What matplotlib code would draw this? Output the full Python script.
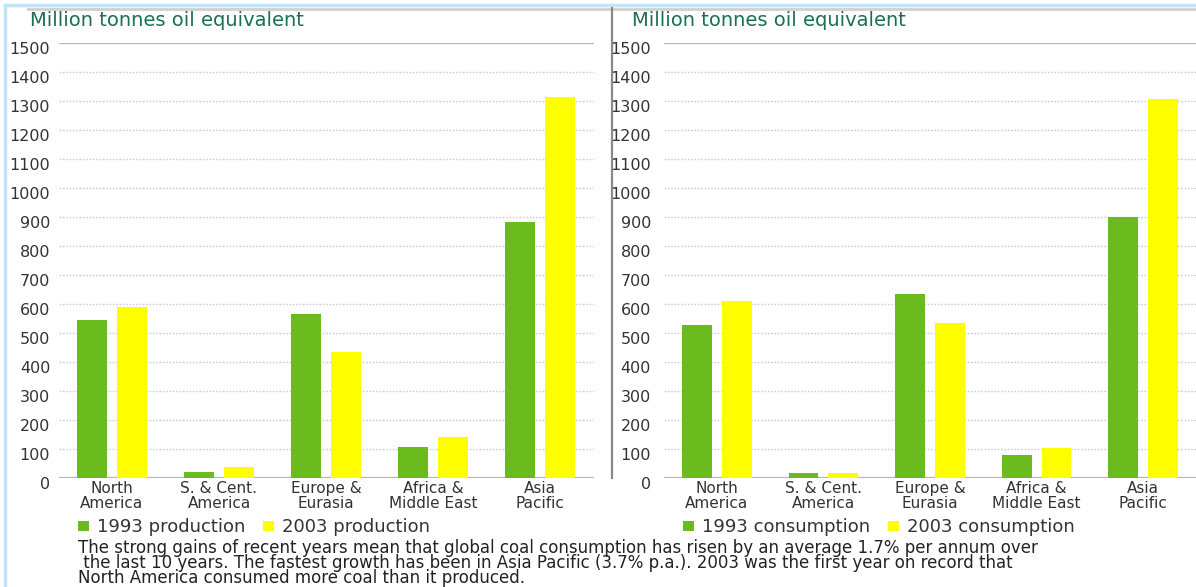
import matplotlib
matplotlib.use("Agg")
import matplotlib.pyplot as plt
from matplotlib.lines import Line2D
from matplotlib.transforms import ScaledTranslation
import numpy as np

# ---- data -------------------------------------------------------------
regions = ["North\nAmerica", "S. & Cent.\nAmerica", "Europe &\nEurasia",
           "Africa &\nMiddle East", "Asia\nPacific"]
production_1993 = [545, 21, 565, 107, 883]
production_2003 = [590, 38, 434, 141, 1314]
consumption_1993 = [528, 17, 634, 79, 900]
consumption_2003 = [610, 16, 534, 103, 1307]
y_ticks = list(range(0, 1501, 100))
unit_label = "Million tonnes oil equivalent"
footnote_lines = [
    "The strong gains of recent years mean that global coal consumption has risen by an average 1.7% per annum over",
    " the last 10 years. The fastest growth has been in Asia Pacific (3.7% p.a.). 2003 was the first year on record that",
    "North America consumed more coal than it produced.",
]

# ---- style ------------------------------------------------------------
GREEN = "#6cbb1e"
YELLOW = "#ffff00"
TEXT = "#333333"
TITLE = "#1d6e55"
plt.rcParams["font.family"] = ["DejaVu Sans"]

W, H = 1196, 587
fig = plt.figure(figsize=(W / 100, H / 100), dpi=100)
fig.patch.set_facecolor("white")


def px_axes(x0, y_top, x1, y_bottom):
    return fig.add_axes([x0 / W, 1 - y_bottom / H, (x1 - x0) / W, (y_bottom - y_top) / H])


def draw_panel(ax, s1, s2, names, tick_pad, legend_x, colspace):
    x = np.arange(len(regions))
    off, bw = 0.187, 0.28
    ax.bar(x - off, s1, bw, color=GREEN, label=names[0], zorder=3)
    ax.bar(x + off, s2, bw, color=YELLOW, label=names[1], zorder=3)
    ax.set_xlim(-0.5, len(regions) - 0.5)
    ax.set_ylim(0, 1500)
    ax.set_yticks(y_ticks)
    ax.set_xticks(x)
    ax.set_xticklabels(regions, fontsize=11, color=TEXT, linespacing=1.0)
    ax.tick_params(axis="x", length=0, pad=2)
    ax.tick_params(axis="y", length=0, pad=tick_pad, labelsize=11.5, labelcolor=TEXT)
    for lab in ax.get_yticklabels():
        lab.set_transform(lab.get_transform() + ScaledTranslation(0, -0.05, fig.dpi_scale_trans))
    for s in ax.spines.values():
        s.set_visible(False)
    for v in y_ticks:
        if v in (0, 1500):
            ax.axhline(v, color="#b4b4b4", lw=1.6, zorder=2)
        else:
            ax.axhline(v, color="#cdcdcd", lw=1.0, ls=(0, (1.2, 1.2)), zorder=2)
    ax.set_facecolor("none")
    ax.legend(loc="upper left", bbox_to_anchor=(legend_x, -0.093), frameon=False, ncol=2,
              fontsize=13, handlelength=0.6, handleheight=0.45, handletextpad=0.45,
              columnspacing=1.0, borderaxespad=0, borderpad=0, labelcolor=TEXT)


ax1 = px_axes(58.5, 43, 593.5, 478)
draw_panel(ax1, production_1993, production_2003,
           ["1993 production", "2003 production"], tick_pad=6,
           legend_x=0.036, colspace=1.0)
ax2 = px_axes(663.5, 43, 1196.5, 478)
draw_panel(ax2, consumption_1993, consumption_2003,
           ["1993 consumption", "2003 consumption"], tick_pad=9,
           legend_x=0.037, colspace=1.0)

# unit labels
fig.text(30 / W, 1 - 21 / H, unit_label, fontsize=14, color=TITLE, va="center", ha="left")
fig.text(632 / W, 1 - 21 / H, unit_label, fontsize=14, color=TITLE, va="center", ha="left")

# frame lines: light-blue border, grey top rule, panel separator
fig.add_artist(Line2D([5 / W, 5 / W], [0, 1 - 5 / H], color="#bfe6f5", lw=2.5))
fig.add_artist(Line2D([5 / W, 1], [1 - 5 / H, 1 - 5 / H], color="#bfe6f5", lw=2.5))
fig.add_artist(Line2D([28 / W, 1], [1 - 9 / H, 1 - 9 / H], color="#d0d0d0", lw=2))
fig.add_artist(Line2D([612 / W, 612 / W], [1 - 8 / H, 1 - 478 / H], color="#8a8a8a", lw=1.6))

# footnote as a single block
fig.text(78 / W, 1 - 539 / H, "\n".join(footnote_lines), fontsize=12, color="#222222",
         va="top", ha="left", linespacing=0.8)

fig.savefig("out.png", dpi=100, facecolor="white")
